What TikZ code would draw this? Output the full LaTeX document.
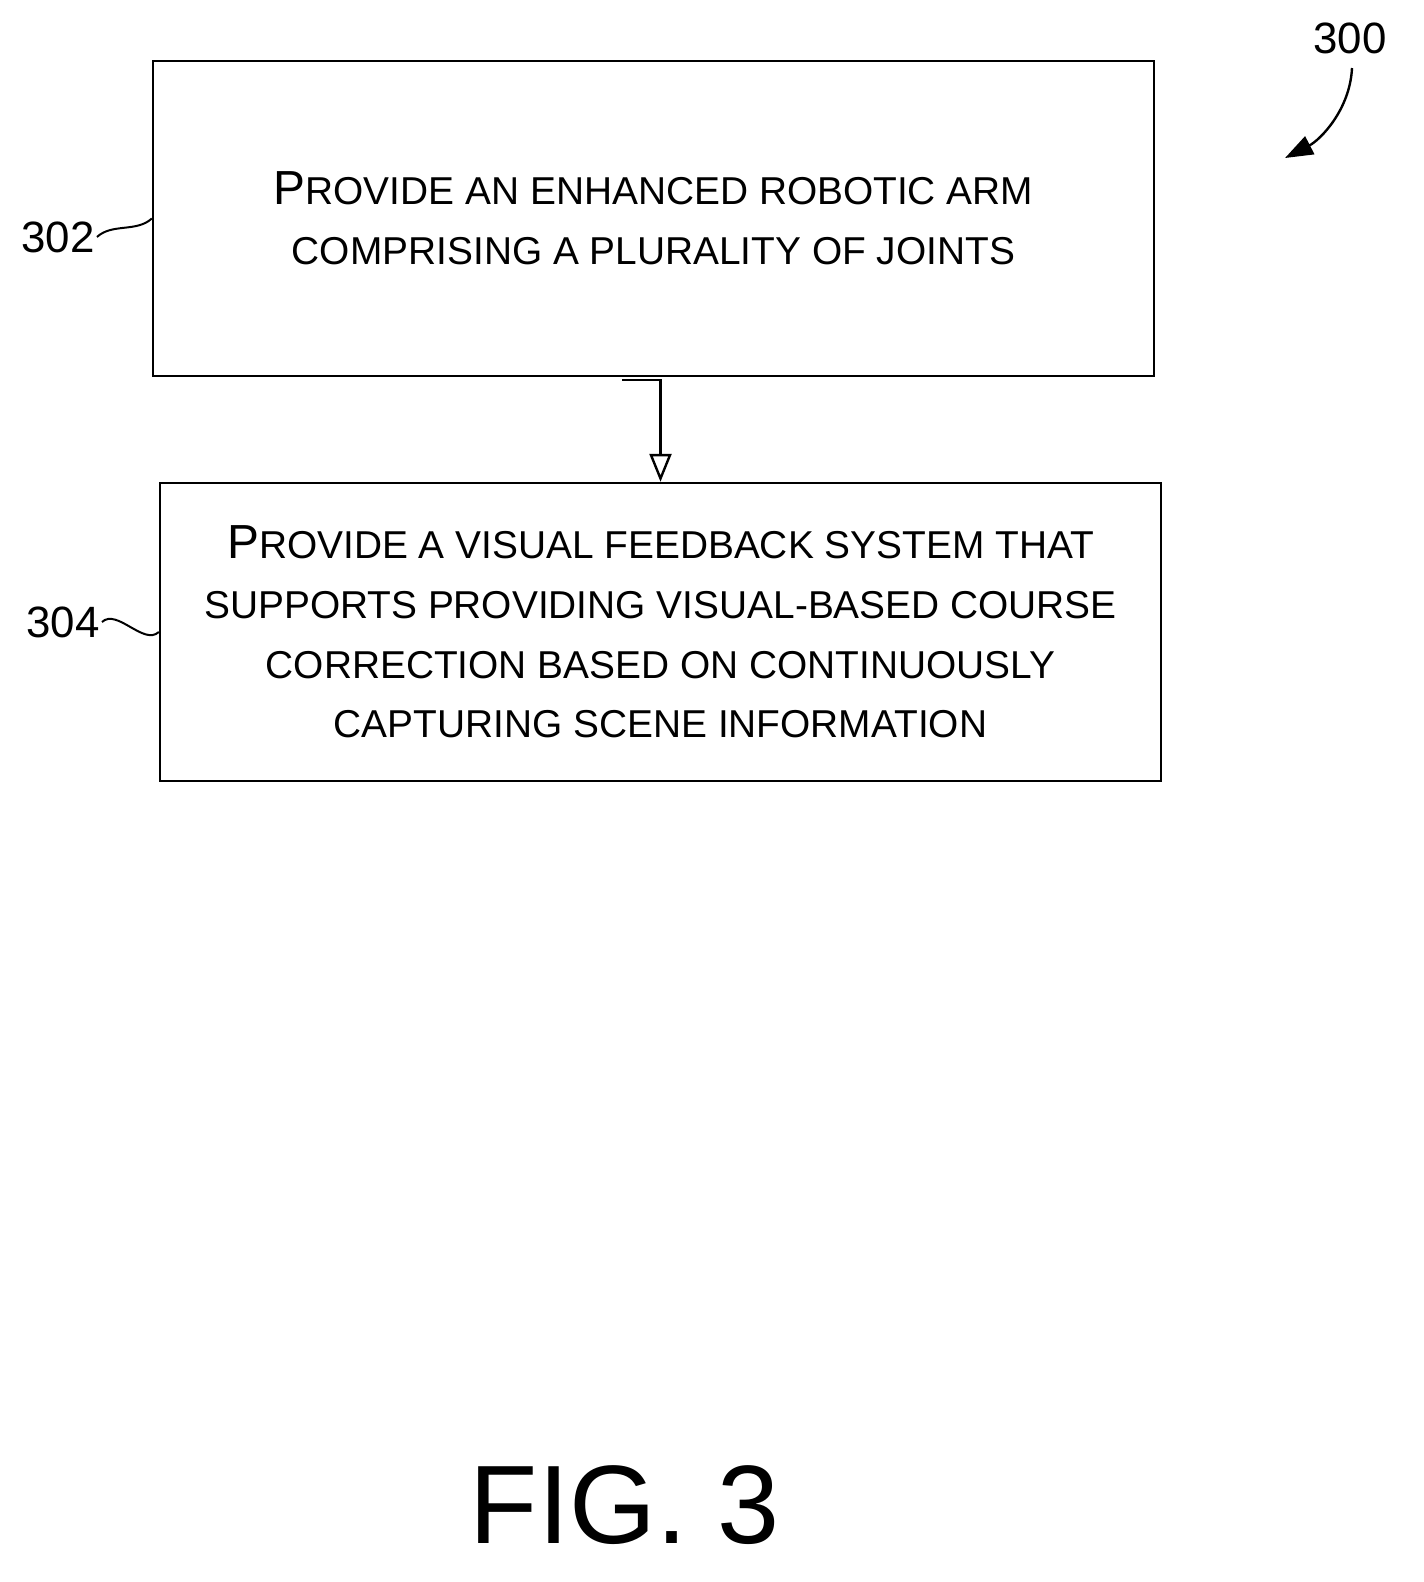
\documentclass[tikz,border=0pt]{standalone}
\usepackage{fontspec}
\setmainfont{Liberation Sans}
\usetikzlibrary{positioning,arrows.meta}
\newcommand{\smc}[2]{{\fontsize{24}{30}\selectfont #1}#2}
\tikzset{
    stepbox/.style = {rectangle, draw = black, line width = 1.2pt, align = center, inner sep = 0pt,
        font = \fontsize{19.5}{30}\selectfont},
    ref/.style = {font = \fontsize{22}{26}\selectfont, inner sep = 1pt},
    flow/.style = {line width = 1.2pt, -{Triangle[length=14pt,width=11pt,open,fill=white]}}
}
\begin{document}
\begin{tikzpicture}[x=0.5bp,y=-0.5bp]
    \useasboundingbox (0,0) rectangle (1424,1582);
    \node [stepbox, minimum width = 500.5bp, minimum height = 157.5bp] (s302) at (653.5,218.5)
        {\smc{P}{ROVIDE AN ENHANCED ROBOTIC ARM}\\COMPRISING A PLURALITY OF JOINTS};
    \node [stepbox, minimum width = 500.5bp, minimum height = 149bp] (s304) at (660.5,632)
        {\smc{P}{ROVIDE A VISUAL FEEDBACK SYSTEM THAT}\\SUPPORTS PROVIDING VISUAL-BASED COURSE\\CORRECTION BASED ON CONTINUOUSLY\\CAPTURING SCENE INFORMATION};
    \coordinate (c1) at (622,380);
    \draw [flow] (c1) -| (s304.north);
    \node [ref] (l302) at (58,237) {302};
    \node [ref] (l304) at (63,622) {304};
    \node [ref] (l300) at (1350,38) {300};
    \draw [line width = 1pt] (l302.east) .. controls +(15,-14) and +(-15,14) .. (s302.west);
    \draw [line width = 1pt] (l304.east) .. controls +(15,-14) and +(-15,14) .. (s304.west);
    \coordinate (a300) at (1285,158);
    \draw [line width = 1.2pt, -{Triangle[length=14pt,width=10pt]}] (1352,68) .. controls (1350,110) and (1320,140) .. (a300);
    \node [font = \fontsize{56}{64}\selectfont] (fig) at (625,1505) {FIG. 3};
\end{tikzpicture}
\end{document}
